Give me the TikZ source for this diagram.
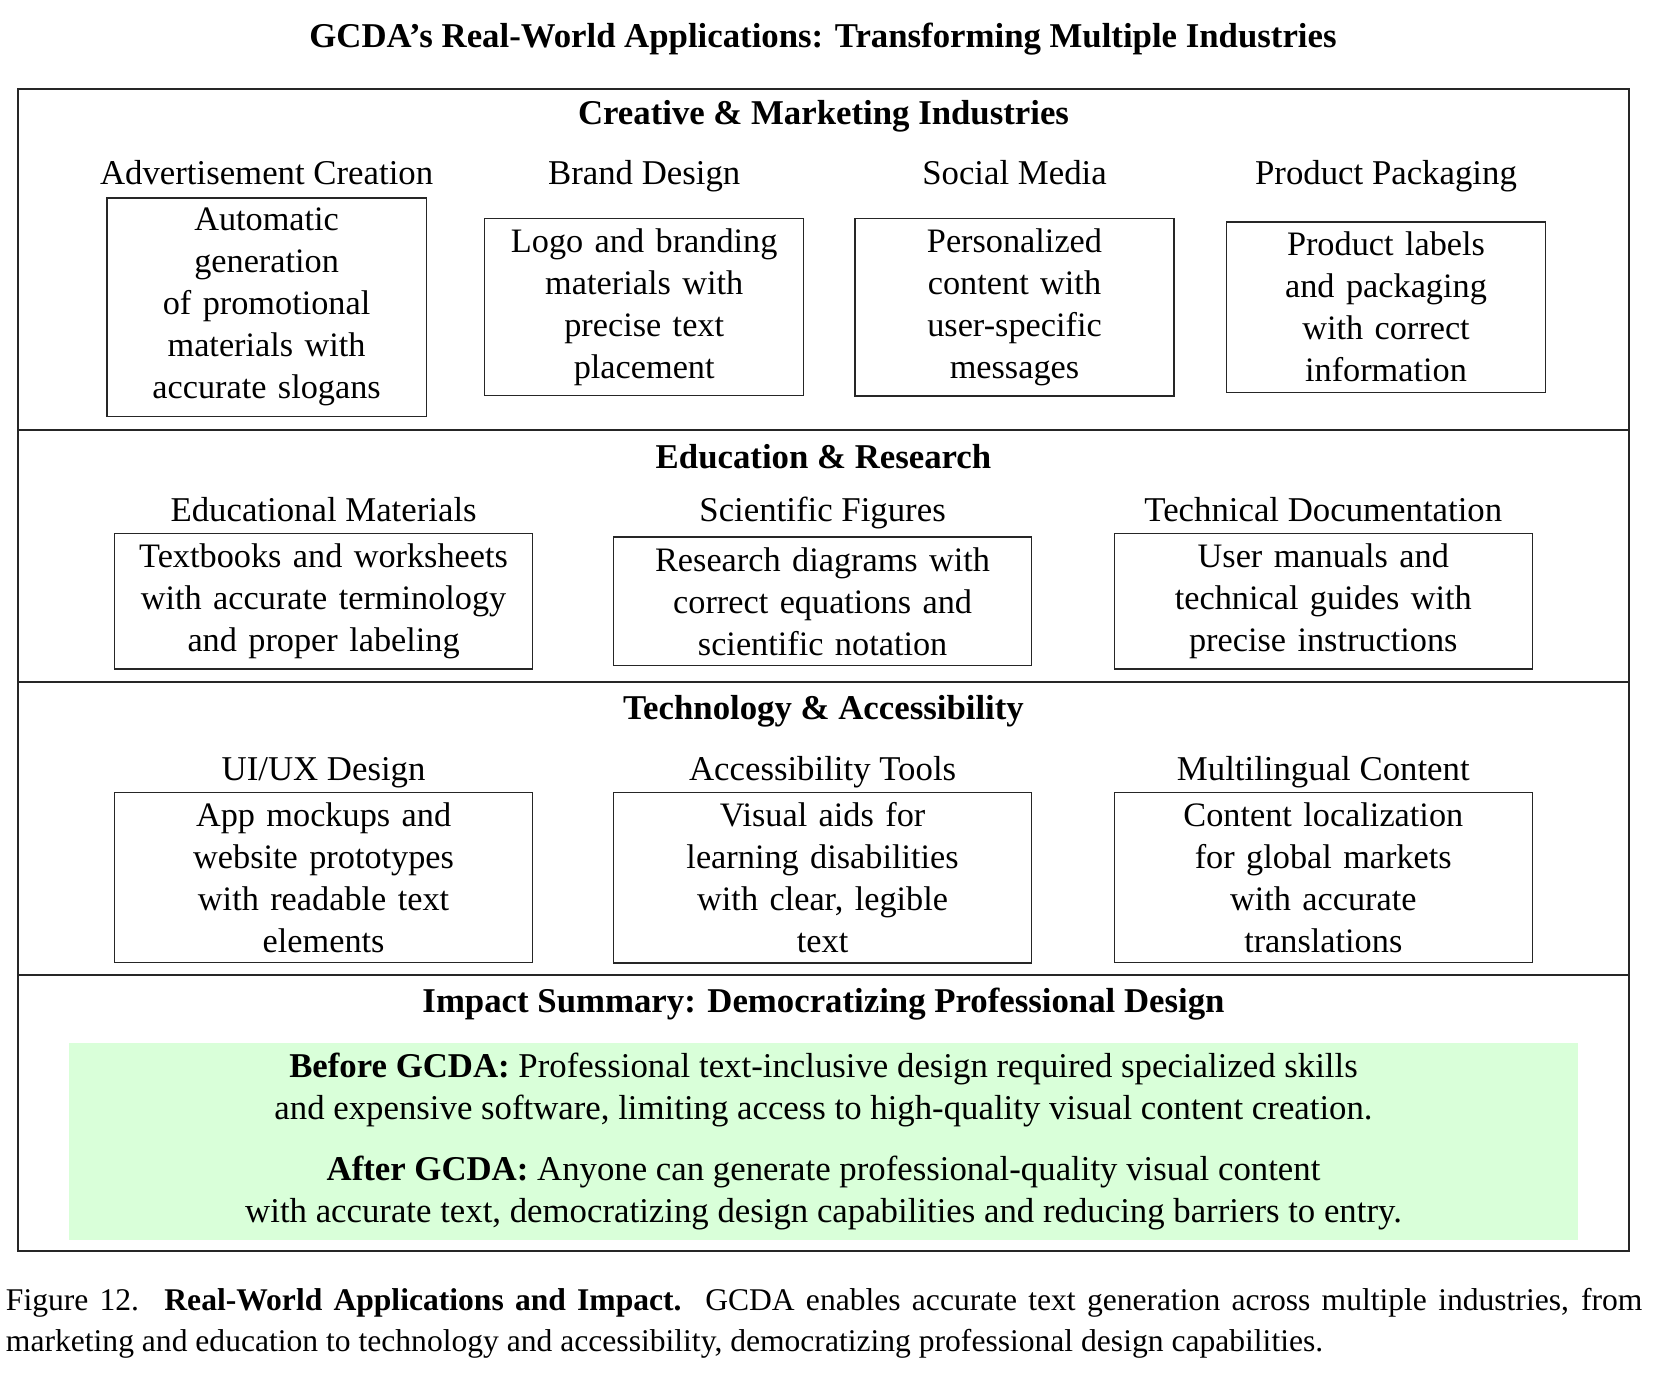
\documentclass[tikz,border=0pt]{standalone}
\usepackage{fontspec}
\setmainfont{Liberation Serif}
\usetikzlibrary{positioning}
\newcommand{\bodyfont}{\fontsize{10.35}{12.5}\selectfont}
\newcommand{\boxfont}{\fontsize{10.2}{12.5}\selectfont}

\begin{document}
\begin{tikzpicture}[x=0.2976pt,y=-0.2976pt,
    apptext/.style={font=\bodyfont,inner sep=0pt,anchor=base},
    appbox/.style={draw=black!85,font=\boxfont,align=center,inner xsep=2pt,inner ysep=3pt},
    narrowbox/.style={appbox,text width=91pt},
    widebox/.style={appbox,text width=120.4pt},
    sectitle/.style={font=\bodyfont\bfseries,inner sep=0pt,anchor=base},
    frameline/.style={draw=black!85,semithick}]

  \useasboundingbox (0,0) rectangle (1664,1392);

  \node[sectitle] (title) at (823,47.6) {GCDA's Real-World Applications: Transforming Multiple Industries};

  % outer frame and section rules
  \coordinate (fl) at (18,89);
  \coordinate (fr) at (1629,1251);
  \draw[frameline] (fl) rectangle (fr);
  \coordinate (r1l) at (18,429.8);   \coordinate (r1r) at (1629,429.8);
  \coordinate (r2l) at (18,682.4);   \coordinate (r2r) at (1629,682.4);
  \coordinate (r3l) at (18,975.2);   \coordinate (r3r) at (1629,975.2);
  \draw[frameline] (r1l) -- (r1r);
  \draw[frameline] (r2l) -- (r2r);
  \draw[frameline] (r3l) -- (r3r);

  % creative and marketing
  \node[sectitle] (sec1) at (823.5,124.1) {Creative \& Marketing Industries};
  \node[apptext] (adv_t)  at (266.6,185) {Advertisement Creation};
  \node[apptext] (brand_t) at (644.2,185) {Brand Design};
  \node[apptext] (social_t) at (1014.5,185) {Social Media};
  \node[apptext] (pack_t) at (1386,185) {Product Packaging};
  \node[narrowbox] (adv)    at (266.6,307.2) {Automatic\\ generation\\ of promotional\\ materials with\\ accurate slogans};
  \node[narrowbox] (brand)  at (644.2,307.2) {Logo and branding\\ materials with\\ precise text\\ placement};
  \node[narrowbox] (social) at (1014.5,307.2) {Personalized\\ content with\\ user-specific\\ messages};
  \node[narrowbox] (pack)   at (1386,307.2) {Product labels\\ and packaging\\ with correct\\ information};

  % education and research
  \node[sectitle] (sec2) at (823.5,468.1) {Education \& Research};
  \node[apptext] (edu_t) at (323.6,521.4) {Educational Materials};
  \node[apptext] (sci_t) at (822.6,521.4) {Scientific Figures};
  \node[apptext] (tech_t) at (1323.3,521.4) {Technical Documentation};
  \node[widebox] (edu)  at (323.6,601.3) {Textbooks and worksheets\\ with accurate terminology\\ and proper labeling};
  \node[widebox] (sci)  at (822.6,601.3) {Research diagrams with\\ correct equations and\\ scientific notation};
  \node[widebox] (tech) at (1323.3,601.3) {User manuals and\\ technical guides with\\ precise instructions};

  % technology and accessibility
  \node[sectitle] (sec3) at (823.5,719.4) {Technology \& Accessibility};
  \node[apptext] (ui_t)   at (323.6,780.4) {UI/UX Design};
  \node[apptext] (acc_t)  at (822.6,780.4) {Accessibility Tools};
  \node[apptext] (lang_t) at (1323.3,780.4) {Multilingual Content};
  \node[widebox] (ui)   at (323.6,877.6) {App mockups and\\ website prototypes\\ with readable text\\ elements};
  \node[widebox] (acc)  at (822.6,877.6) {Visual aids for\\ learning disabilities\\ with clear, legible\\ text};
  \node[widebox] (lang) at (1323.3,877.6) {Content localization\\ for global markets\\ with accurate\\ translations};

  % impact summary
  \node[sectitle] (sec4) at (823.5,1012.3) {Impact Summary: Democratizing Professional Design};
  \node[fill=green!15,font=\bodyfont,align=center,minimum width=449pt,minimum height=58.4pt,inner sep=0pt]
    (impact) at (823.5,1141.4)
    {\textbf{Before GCDA:} Professional text-inclusive design required specialized skills\\
     and expensive software, limiting access to high-quality visual content creation.\\[5.8pt]
     \textbf{After GCDA:} Anyone can generate professional-quality visual content\\
     with accurate text, democratizing design capabilities and reducing barriers to entry.};

  \node[anchor=west,inner sep=0pt,text width=487pt,align=justify,font=\fontsize{9.4}{12}\selectfont]
    (caption) at (5.3,1323.4)
    {Figure 12.\hspace{0.15em} \textbf{Real-World Applications and Impact.}\hspace{0.1em} GCDA enables accurate text generation across multiple industries, from\linebreak marketing and education to technology and accessibility, democratizing professional design capabilities.};
\end{tikzpicture}
\end{document}
